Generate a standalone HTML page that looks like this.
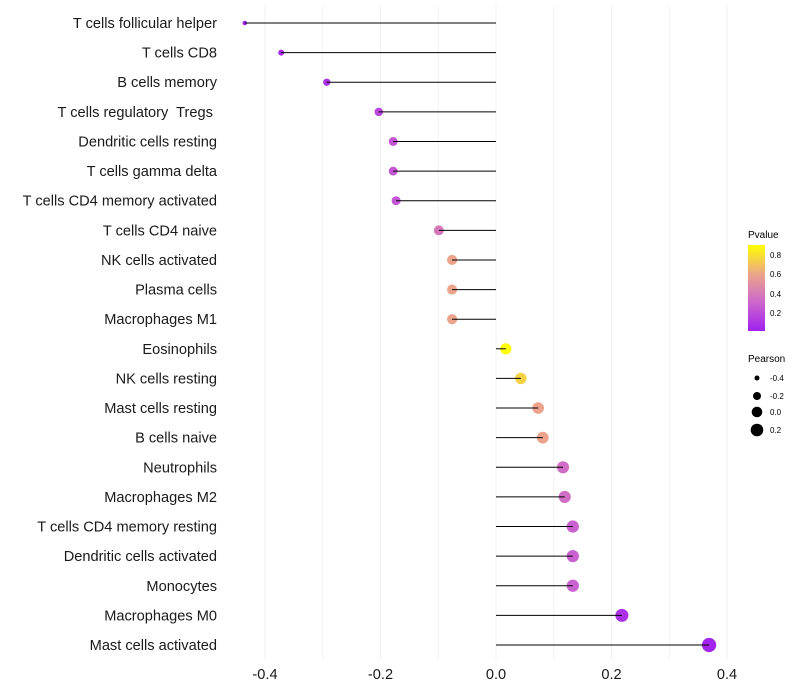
<!DOCTYPE html>
<html><head><meta charset="utf-8"><style>
body{margin:0;background:#fff;font-family:"Liberation Sans",sans-serif}
svg{display:block}
text{white-space:pre}
</style></head><body>
<svg id="chart" width="800" height="700">
<defs><linearGradient id="pg" x1="0" y1="1" x2="0" y2="0">
<stop offset="0" stop-color="#A020F0"/><stop offset="0.33" stop-color="#CC66CC"/>
<stop offset="0.66" stop-color="#EBA58A"/><stop offset="1" stop-color="#FFFF00"/></linearGradient></defs>
<g id="grid"></g><g id="pts"></g><g id="lines"></g><g id="labels"></g><g id="ticks"></g>
<g>
<text x="748" y="238" font-size="10" fill="#000">Pvalue</text>
<rect x="748" y="245" width="17" height="86" fill="url(#pg)"/>
<text x="770" y="258" font-size="8">0.8</text><text x="770" y="277" font-size="8">0.6</text>
<text x="770" y="297" font-size="8">0.4</text><text x="770" y="316" font-size="8">0.2</text>
</g>
<g>
<text x="748" y="362" font-size="10">Pearson</text>
<circle cx="757" cy="378" r="2.5"/><text x="770" y="381" font-size="8">-0.4</text>
<circle cx="757" cy="396" r="4"/><text x="770" y="399" font-size="8">-0.2</text>
<circle cx="757" cy="412" r="5.3"/><text x="770" y="415" font-size="8">0.0</text>
<circle cx="757" cy="430" r="6.3"/><text x="770" y="433" font-size="8">0.2</text>
</g>
</svg>
<script>
const categories=["T cells follicular helper","T cells CD8","B cells memory","T cells regulatory  Tregs ","Dendritic cells resting","T cells gamma delta","T cells CD4 memory activated","T cells CD4 naive","NK cells activated","Plasma cells","Macrophages M1","Eosinophils","NK cells resting","Mast cells resting","B cells naive","Neutrophils","Macrophages M2","T cells CD4 memory resting","Dendritic cells activated","Monocytes","Macrophages M0","Mast cells activated"];
const pearson=[-0.435,-0.372,-0.293,-0.203,-0.178,-0.178,-0.173,-0.099,-0.076,-0.076,-0.076,0.017,0.043,0.073,0.081,0.116,0.119,0.133,0.133,0.133,0.218,0.369];
const pvalue=[0.05,0.08,0.1,0.2,0.25,0.25,0.25,0.4,0.6,0.6,0.6,0.9,0.75,0.6,0.6,0.35,0.35,0.3,0.3,0.3,0.1,0.05];
const xTicks=[-0.4,-0.2,0.0,0.2,0.4];
const NS="http://www.w3.org/2000/svg";
function X(v){return 496+v*577.5;}
function Y(i){return 23+i*(622/21);}
function R(v){return Math.sqrt(Math.max(2,30+57*v));}
const stops=[[0,[160,32,240]],[0.33,[204,102,204]],[0.66,[235,165,138]],[1,[255,255,0]]];
function col(p){let t=Math.min(1,Math.max(0,(p-0.03)/0.87));for(let k=1;k<stops.length;k++){if(t<=stops[k][0]){const a=stops[k-1],b=stops[k],f=(t-a[0])/(b[0]-a[0]);const c=a[1].map((x,j)=>Math.round(x+(b[1][j]-x)*f));return `rgb(${c})`;}}return "rgb(255,255,0)";}
function mk(t,a,p){const e=document.createElementNS(NS,t);for(const k in a)e.setAttribute(k,a[k]);p.appendChild(e);return e;}
const grid=document.getElementById('grid'),pts=document.getElementById('pts'),lines=document.getElementById('lines'),labels=document.getElementById('labels'),ticks=document.getElementById('ticks');
for(let v=-0.4;v<=0.401;v+=0.1){const g=mk('line',{x1:X(v),x2:X(v),y1:5,y2:660,stroke:'#f2f2f2','stroke-width':1},grid);

}
categories.forEach((c,i)=>{
const y=Y(i);
const pt=mk('circle',{cx:X(pearson[i]),cy:y,r:R(pearson[i]),fill:col(pvalue[i])},pts);


const ln=mk('line',{x1:X(0),x2:X(pearson[i]),y1:y,y2:y,stroke:'#000','stroke-width':1},lines);


const t=mk('text',{x:217,y:y+5,'text-anchor':'end','font-size':14.6,fill:'#1a1a1a'},labels);t.textContent=c;


});
xTicks.forEach(v=>{const t=mk('text',{x:X(v),y:679,'text-anchor':'middle','font-size':14.6,fill:'#1a1a1a'},ticks);t.textContent=v.toFixed(1);

});
</script>
</body></html>
